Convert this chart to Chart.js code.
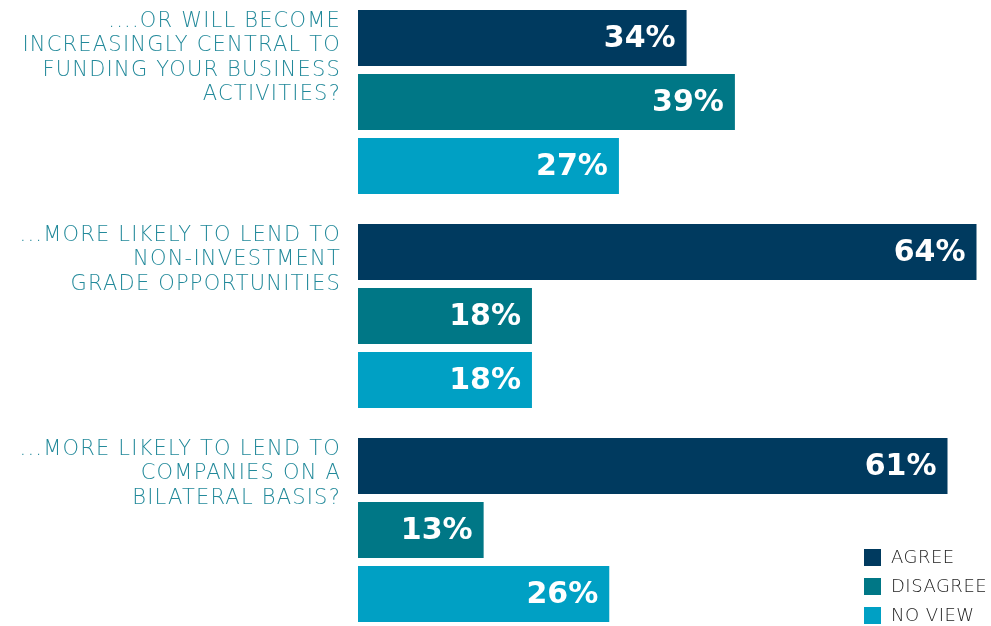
<!DOCTYPE html>
<html>
<head>
<meta charset="utf-8">
<script src="https://cdn.jsdelivr.net/npm/chart.js@4.4.1/dist/chart.umd.min.js"></script>
<style>
  html, body { margin: 0; padding: 0; background: #fff; overflow: hidden; }
  #wrap { position: absolute; left: 0; top: -5px; width: 991px; height: 642px; }
</style>
</head>
<body>
<div id="wrap"><canvas id="surveyChart"></canvas></div>
<script>
  // question wording, one entry per line
  var questions = [
    ['....OR WILL BECOME', 'INCREASINGLY CENTRAL TO', 'FUNDING YOUR BUSINESS', 'ACTIVITIES?'],
    ['...MORE LIKELY TO LEND TO', 'NON-INVESTMENT', 'GRADE OPPORTUNITIES'],
    ['...MORE LIKELY TO LEND TO', 'COMPANIES ON A', 'BILATERAL BASIS?']
  ];
  var agree = [34, 64, 61];
  var disagree = [39, 18, 13];
  var noView = [27, 18, 26];
  var seriesNames = ['AGREE', 'DISAGREE', 'NO VIEW'];
  var seriesColors = ['#003a5f', '#007786', '#00a0c4'];

  var labelFont = "200 21px 'DejaVu Sans'";
  var valueFont = "bold 30px 'DejaVu Sans'";

  var textPlugin = {
    id: 'textPlugin',
    afterDatasetsDraw: function (chart) {
      var ctx = chart.ctx;

      // percentage labels inside the bar ends
      ctx.save();
      ctx.font = valueFont;
      ctx.fillStyle = '#ffffff';
      ctx.textAlign = 'right';
      ctx.textBaseline = 'middle';
      chart.data.datasets.forEach(function (ds, di) {
        chart.getDatasetMeta(di).data.forEach(function (bar, i) {
          ctx.fillText(ds.data[i] + '%', bar.x - 11, bar.y + 1);
        });
      });
      ctx.restore();

      // question text, top aligned with the first bar of each group
      ctx.save();
      ctx.font = labelFont;
      ctx.letterSpacing = '1.2px';
      ctx.fillStyle = '#22899a';
      ctx.textAlign = 'right';
      ctx.textBaseline = 'alphabetic';
      questions.forEach(function (lines, i) {
        var top = chart.getDatasetMeta(0).data[i];
        var y0 = top.y - top.height / 2 + 17;
        lines.forEach(function (line, li) {
          ctx.fillText(line, 341, y0 + li * 24.5);
        });
      });
      ctx.restore();

      // legend in the bottom right corner (canvas sits 5px above the page)
      ctx.save();
      ctx.font = "200 18px 'DejaVu Sans'";
      ctx.letterSpacing = '0.5px';
      ctx.textBaseline = 'middle';
      ctx.textAlign = 'left';
      seriesNames.forEach(function (name, i) {
        var y = 562 + i * 29;
        ctx.fillStyle = seriesColors[i];
        ctx.fillRect(864, y - 8, 17, 17);
        ctx.fillStyle = '#222222';
        ctx.fillText(name, 891, y + 1);
      });
      ctx.restore();
    }
  };

  var ctx = document.getElementById('surveyChart').getContext('2d');
  new Chart(ctx, {
    type: 'bar',
    data: {
      labels: questions,
      datasets: [
        { label: seriesNames[0], data: agree, backgroundColor: seriesColors[0] },
        { label: seriesNames[1], data: disagree, backgroundColor: seriesColors[1] },
        { label: seriesNames[2], data: noView, backgroundColor: seriesColors[2] }
      ]
    },
    options: {
      indexAxis: 'y',
      responsive: true,
      maintainAspectRatio: false,
      animation: false,
      layout: { padding: { left: 358, right: 0, top: 0, bottom: 0 } },
      datasets: {
        bar: { categoryPercentage: 0.8972, barPercentage: 0.875 }
      },
      scales: {
        x: { display: false, min: 0, max: 65.5 },
        y: { display: false }
      },
      plugins: {
        legend: { display: false },
        tooltip: { enabled: false }
      }
    },
    plugins: [textPlugin]
  });
</script>
</body>
</html>
